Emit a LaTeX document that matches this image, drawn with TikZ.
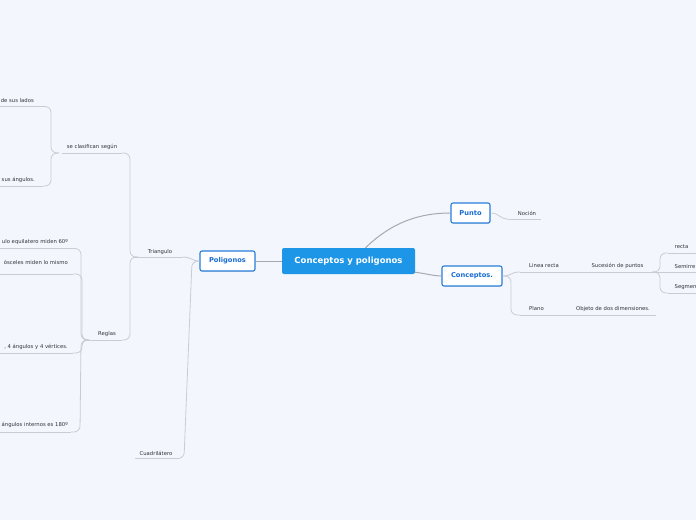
\documentclass[tikz,border=0pt]{standalone}
\usepackage{fontspec}
\setmainfont{DejaVu Sans}
\usetikzlibrary{shadows,calc}
\definecolor{bgc}{RGB}{243,246,253}
\definecolor{linec}{RGB}{200,204,213}
\definecolor{rootline}{RGB}{165,169,177}
\definecolor{boxblue}{RGB}{40,125,220}
\definecolor{boxtext}{RGB}{25,110,210}
\definecolor{rootfill}{RGB}{30,150,232}
\definecolor{txtc}{RGB}{50,50,55}
\tikzset{
  conn/.style={draw=linec, line width=0.8pt, rounded corners=6pt},
  uline/.style={draw=linec, line width=0.8pt},
  rconn/.style={draw=rootline, line width=1pt},
  lbl/.style={font=\fontsize{5.3}{6.4}\selectfont, text=txtc, inner sep=0pt},
  subbox/.style={draw=boxblue, line width=1.1pt, fill=white, rounded corners=2pt,
    font=\fontsize{6.7}{8}\selectfont\bfseries, text=boxtext, minimum height=20pt, inner sep=0pt,
    drop shadow={opacity=0.2, shadow xshift=0.4pt, shadow yshift=-0.8pt}},
  rootbox/.style={fill=rootfill, rounded corners=2pt, text=white,
    font=\fontsize{8.5}{10}\selectfont\bfseries, minimum width=133pt, minimum height=26pt, inner sep=0pt}
}
\begin{document}
\begin{tikzpicture}[x=1pt,y=-1pt]
\fill[bgc] (0,0) rectangle (696,520);
\useasboundingbox (0,0) rectangle (696,520);

% main boxes
\node[rootbox] (root) at (348.5,261) {Conceptos y poligonos};
\node[subbox, minimum width=55pt] (pol) at (227.5,261) {Poligonos};
\node[subbox, minimum width=39pt] (punto) at (470.5,213) {Punto};
\node[subbox, minimum width=60pt] (conc) at (472,276) {Conceptos.};

\draw[rconn] (root.west) -- (pol.east);
\draw[rconn] ($(root.north)+(17,0)$) .. controls (392,222) and (420,213) .. (punto.west);
\draw[rconn] ($(root.south east)+(0,-2)$) .. controls (428,274) and (434,276) .. (conc.west);

% ---- Poligonos branch
\node[lbl] (tri) at (160,252) {Triangulo};
\coordinate (tri-l) at (138,257);
\coordinate (tri-r) at (183,257);
\draw[uline] (133,257) -- (tri-r);
\draw[conn] (pol.west) .. controls (192,261) and (191,257) .. (tri-r);

\node[lbl] (cua) at (156,453) {Cuadrilátero};
\coordinate (cua-l) at (135,458.5);
\coordinate (cua-r) at (177,458.5);
\draw[uline] (cua-l) -- (cua-r);
\draw[conn] (pol.west) -- (192,261) -- (184,458.5) -- (cua-r);

% se clasifican segun
\node[lbl] (se) at (92,147) {se clasifican según};
\coordinate (se-l) at (59,153);
\coordinate (se-r) at (122,153);
\draw[uline] (62,153) -- (se-r);
\draw[conn] (tri-l) -- (130,257) -- (130,153) -- (se-r);

\node[lbl, anchor=east] (lados) at (34,101) {de sus lados};
\coordinate (lados-l) at (-5,106.5);
\coordinate (lados-r) at (43,106.5);
\draw[uline] (lados-l) -- (lados-r);
\draw[conn] (se-l) -- (51,153) -- (51,106.5) -- (lados-r);

\node[lbl, anchor=east] (angs) at (35,180) {sus ángulos.};
\coordinate (angs-l) at (-5,186);
\coordinate (angs-r) at (43,186);
\draw[uline] (angs-l) -- (angs-r);
\draw[conn] (se-l) -- (51,153) -- (51,186) -- (angs-r);

% Reglas
\node[lbl] (reg) at (107,334) {Reglas};
\coordinate (reg-l) at (89,340);
\coordinate (reg-r) at (122,340);
\draw[uline] (85,340) -- (reg-r);
\draw[conn] (tri-l) -- (130,257) -- (130,340) -- (reg-r);

\node[lbl, anchor=east] (r1) at (68,242) {ulo equilatero miden 60º};
\coordinate (r1-l) at (-5,248.5);
\coordinate (r1-r) at (72,248.5);
\draw[uline] (r1-l) -- (r1-r);
\draw[conn] (reg-l) -- (81,340) -- (81,248.5) -- (r1-r);

\node[lbl, anchor=east] (r2) at (68,262) {ósceles miden lo mismo};
\coordinate (r2-l) at (-5,274);
\coordinate (r2-r) at (73,274);
\draw[uline] (r2-l) -- (r2-r);
\draw[conn] (reg-l) -- (82,340) -- (82,274) -- (r2-r);

\node[lbl, anchor=east] (r3) at (68,347) {, 4 ángulos y 4 vértices.};
\coordinate (r3-l) at (-5,353);
\coordinate (r3-r) at (73,353);
\draw[uline] (r3-l) -- (r3-r);
\draw[conn] (reg-l) -- (82,340) -- (82,353) -- (r3-r);

\node[lbl, anchor=east] (r4) at (68,425) {ángulos internos es 180º};
\coordinate (r4-l) at (-5,432);
\coordinate (r4-r) at (71,432);
\draw[uline] (r4-l) -- (r4-r);
\draw[conn] (reg-l) -- (81,340) -- (80,432) -- (r4-r);

% ---- Punto branch
\node[lbl] (noc) at (527,213) {Noción};
\coordinate (noc-l) at (508,219);
\coordinate (noc-r) at (541,219);
\draw[uline] (noc-l) -- (noc-r);
\draw[conn] (punto.east) .. controls (500,213) and (499,219) .. (noc-l);

% ---- Conceptos branch
\node[lbl] (lr) at (544,266) {Linea recta};
\coordinate (lr-l) at (520,272);
\coordinate (lr-r) at (565,272);
\draw[uline] (lr-l) -- (lr-r);
\draw[conn] (conc.east) .. controls (512,276) and (510,272) .. (lr-l);

\node[lbl] (suc) at (617.5,266) {Sucesión de puntos};
\coordinate (suc-r) at (652,272);
\draw[uline] (lr-r) -- (suc-r);

\node[lbl] (pl) at (536.5,309) {Plano};
\coordinate (pl-l) at (520,315);
\coordinate (pl-r) at (565,315);
\draw[uline] (pl-l) -- (pl-r);
\draw[conn] (conc.east) -- (511,276) -- (511,315) -- (pl-l);

\node[lbl] (obj) at (613,309) {Objeto de dos dimensiones.};
\coordinate (obj-r) at (656,315);
\draw[uline] (pl-r) -- (obj-r);

\node[lbl, anchor=west] (rec) at (674.5,247) {recta};
\coordinate (rec-l) at (668,253);
\draw[uline] (rec-l) -- (700,253);
\draw[conn] (suc-r) -- (660,272) -- (660,253) -- (rec-l);

\node[lbl, anchor=west] (semi) at (674.5,267) {Semirre};
\coordinate (semi-l) at (668,272);
\draw[uline] (semi-l) -- (700,272);
\draw[conn] (suc-r) -- (semi-l);

\node[lbl, anchor=west] (seg) at (674.5,287) {Segmen};
\coordinate (seg-l) at (668,293);
\draw[uline] (seg-l) -- (700,293);
\draw[conn] (suc-r) -- (660,272) -- (660,293) -- (seg-l);
\end{tikzpicture}
\end{document}
